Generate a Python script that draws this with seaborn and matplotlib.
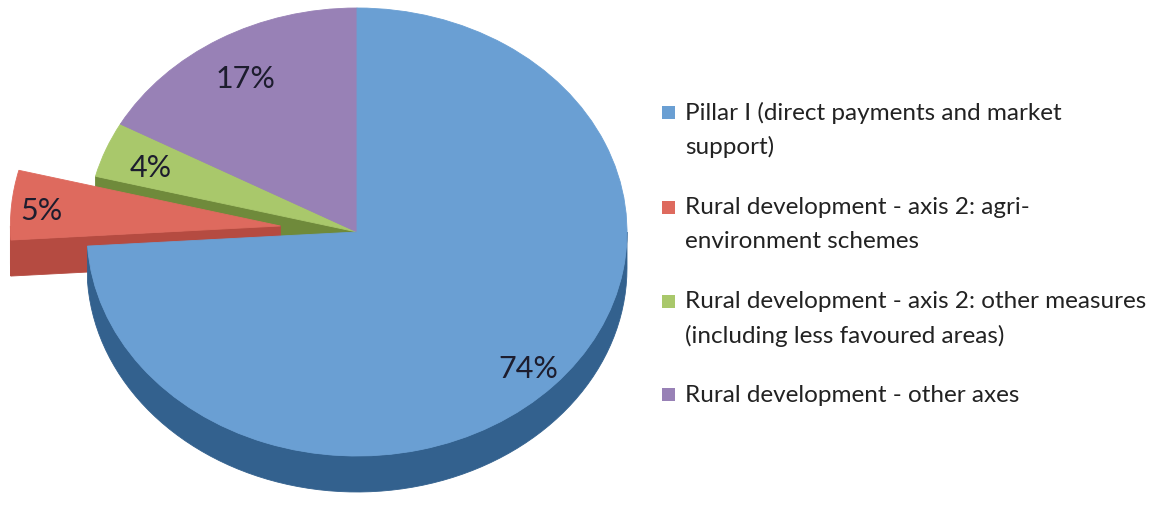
import numpy as np
import matplotlib
matplotlib.use("Agg")
import matplotlib.pyplot as plt
import seaborn as sns
from matplotlib.patches import Rectangle, Polygon

# Budget shares of the CAP
categories = [
    "Pillar I (direct payments and market\nsupport)",
    "Rural development - axis 2: agri-\nenvironment schemes",
    "Rural development - axis 2: other measures\n(including less favoured areas)",
    "Rural development - other axes",
]
shares = [74, 5, 4, 17]
explode = [0, 0.285, 0, 0]
top_colors = ["#6A9FD3", "#DE6A5E", "#A9C86B", "#9881B6"]
side_colors = ["#33618E", "#B54B41", "#6F8A3B", "#6A5588"]

sns.set_theme(style="white")
plt.rcParams["font.family"] = ["Lato", "DejaVu Sans"]

W, H = 1175, 505
fig = plt.figure(figsize=(W / 100, H / 100), dpi=100)
fig.patch.set_facecolor("white")

# pie area: unit circle drawn flattened into an ellipse to give a tilted look
pie_w = 640
cx_px, cy_px, rx_px, ry_px = 357, 273, 270, 224
ax = fig.add_axes([0, 0, pie_w / W, 1])
depth = 36 / ry_px

wedges, texts, autotexts = ax.pie(
    shares, explode=explode, colors=top_colors, startangle=90,
    counterclock=False, autopct="%1.0f%%", pctdistance=0.85,
    wedgeprops=dict(linewidth=0.6),
    textprops=dict(fontsize=22, color="#1d1d2e"),
)
ax.set_aspect("auto")
ax.set_xlim(-cx_px / rx_px, (pie_w - cx_px) / rx_px)
ax.set_ylim(-cy_px / ry_px, (H - cy_px) / ry_px)
ax.axis("off")

# place each percentage label along its wedge's bisector
label_r = [0.87, 0.89, 0.82, 0.81]
label_drop = 0.015
for w, t, r in zip(wedges, autotexts, label_r):
    mid = np.radians((w.theta1 + w.theta2) / 2)
    t.set_position((w.center[0] + r * np.cos(mid),
                    w.center[1] + r * np.sin(mid) - label_drop))


def rim_faces(center, t1, t2):
    """Front-facing outer wall pieces of a wedge spanning t1..t2 degrees."""
    faces = []
    for k in (-2, -1, 0, 1):
        lo = max(t1, 180 + 360 * k)
        hi = min(t2, 360 + 360 * k)
        if hi > lo:
            th = np.radians(np.linspace(lo, hi, 80))
            xs = center[0] + np.cos(th)
            ys = center[1] + np.sin(th)
            px = np.concatenate([xs, xs[::-1]])
            py = np.concatenate([ys, ys[::-1] - depth])
            faces.append(np.column_stack([px, py]))
    return faces


def radial_face(center, t):
    th = np.radians(t)
    x0, y0 = center
    x1, y1 = x0 + np.cos(th), y0 + np.sin(th)
    return np.array([[x0, y0], [x1, y1], [x1, y1 - depth], [x0, y0 - depth]])


# side walls, drawn beneath the top faces
order = [3, 2, 1, 0]
for i in order:
    w = wedges[i]
    c = w.center
    w.set_edgecolor(top_colors[i])
    if np.cos(np.radians(w.theta2)) < -1e-6:
        ax.add_patch(Polygon(radial_face(c, w.theta2), closed=True,
                             facecolor=side_colors[i], edgecolor=side_colors[i],
                             lw=0.6, zorder=1))
    if np.cos(np.radians(w.theta1)) > 1e-6:
        ax.add_patch(Polygon(radial_face(c, w.theta1), closed=True,
                             facecolor=side_colors[i], edgecolor=side_colors[i],
                             lw=0.6, zorder=1))
    for f in rim_faces(c, w.theta1, w.theta2):
        ax.add_patch(Polygon(f, closed=True, facecolor=side_colors[i],
                             edgecolor=side_colors[i], lw=0.6, zorder=1))

for i, w in enumerate(wedges):
    w.set_zorder(3 if i == 0 else 2)
for t in autotexts:
    t.set_zorder(5)

# legend
line_gap = 34
entry_y = [113, 208, 302, 395]
for lab, col, y in zip(categories, top_colors, entry_y):
    fig.patches.append(Rectangle(((662) / W, 1 - (y + 6) / H), 13 / W, 13 / H,
                                 transform=fig.transFigure, facecolor=col,
                                 edgecolor="none"))
    for j, line in enumerate(lab.split("\n")):
        fig.text(685 / W, 1 - (y + j * line_gap) / H, line, fontsize=17.5,
                 color="#222222", va="center", ha="left")

fig.savefig("out.png", dpi=100, facecolor="white")
